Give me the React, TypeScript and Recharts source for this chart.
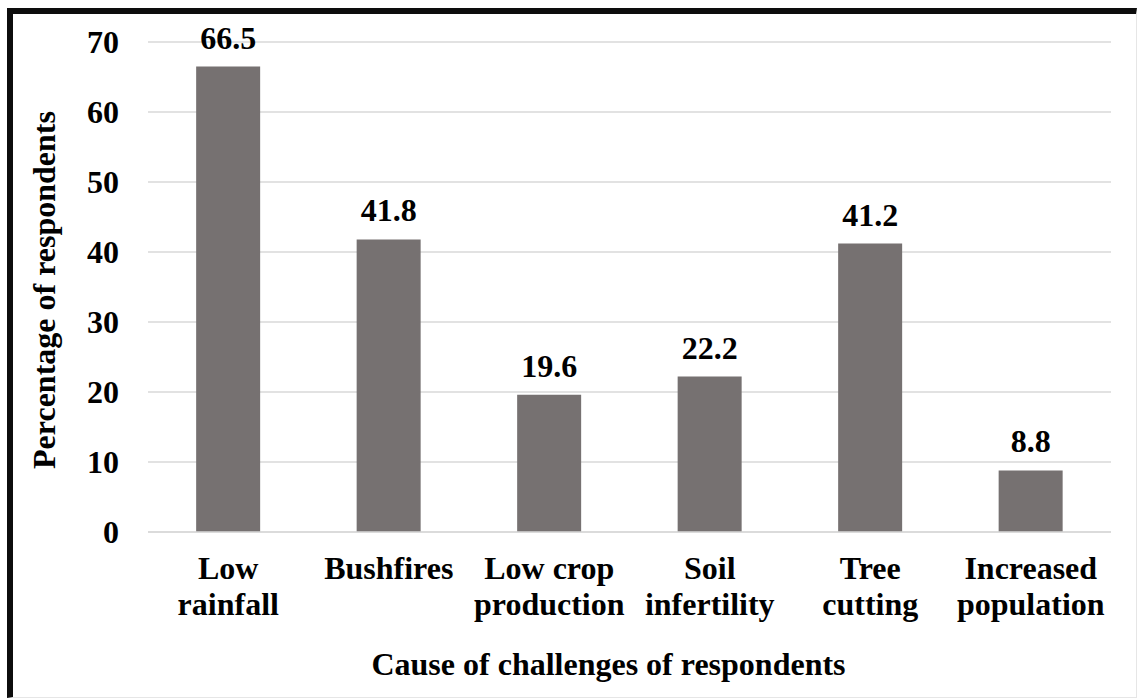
import { BarChart, Bar, XAxis, YAxis, CartesianGrid, LabelList, Label } from 'recharts';

// ── Data ────────────────────────────────────────────────
const categories = [
  'Low\nrainfall',
  'Bushfires',
  'Low crop\nproduction',
  'Soil\ninfertility',
  'Tree\ncutting',
  'Increased\npopulation',
];
const percentages = [66.5, 41.8, 19.6, 22.2, 41.2, 8.8];
const yTicks = [0, 10, 20, 30, 40, 50, 60, 70];

const xTitle = 'Cause of challenges of respondents';
const yTitle = 'Percentage of respondents';

const data = categories.map((name, i) => ({ name, value: percentages[i] }));

const FONT = "'Liberation Serif', 'Times New Roman', Times, serif";
const FS = 32;

// ── Ticks / labels ──────────────────────────────────────
function CategoryTick({ x, y, payload }: any) {
  const lines = String(payload.value).split('\n');
  return (
    <text x={x} y={y} textAnchor="middle" fill="#000" fontSize={FS} fontWeight="bold" style={{ fontFamily: FONT }}>
      {lines.map((line, i) => (
        <tspan key={i} x={x} dy={i === 0 ? '0.7em' : 36}>
          {line}
        </tspan>
      ))}
    </text>
  );
}

function XTitle({ viewBox }: any) {
  const cx = viewBox.x + viewBox.width / 2 - 21;
  return (
    <text x={cx} y={675} textAnchor="middle" fill="#000" fontSize={FS} fontWeight="bold" style={{ fontFamily: FONT }}>
      {xTitle}
    </text>
  );
}

function YTitle({ viewBox }: any) {
  const cy = viewBox.y + viewBox.height / 2 + 3;
  return (
    <text
      x={44}
      y={cy}
      transform={`rotate(-90, 44, ${cy})`}
      textAnchor="middle"
      dominantBaseline="central"
      fill="#000"
      fontSize={FS}
      fontWeight="bold"
      style={{ fontFamily: FONT }}
    >
      {yTitle}
    </text>
  );
}

// ── Component ───────────────────────────────────────────
export default function App() {
  return (
    <div
      style={{
        position: 'absolute',
        left: 0,
        top: 0,
        width: 1137,
        height: 698,
        background: '#fff',
        fontFamily: FONT,
        fontWeight: 'bold',
      }}
    >
      {/* frame */}
      <div
        style={{
          position: 'absolute',
          left: 7,
          top: 8,
          width: 1130,
          height: 690,
          boxSizing: 'border-box',
          borderLeft: '6px solid #0d0d0d',
          borderTop: '6px solid #0d0d0d',
          borderRight: '1px solid #e6e6e6',
          borderBottom: '1px solid #e6e6e6',
        }}
      />
      <div style={{ position: 'absolute', left: 0, top: 0 }}>
        <BarChart
          width={1137}
          height={698}
          data={data}
          margin={{ top: 42, right: 26, bottom: 0, left: 0 }}
          barCategoryGap="30%"
          style={{ fontFamily: FONT }}
        >
          <CartesianGrid vertical={false} stroke="#d9d9d9" strokeWidth={1.5} />
          <XAxis
            dataKey="name"
            height={166}
            axisLine={{ stroke: '#d9d9d9', strokeWidth: 1.5 }}
            tickLine={false}
            tickSize={0}
            tickMargin={25}
            interval={0}
            tick={<CategoryTick />}
          >
            <Label content={<XTitle />} />
          </XAxis>
          <YAxis
            width={148}
            domain={[0, 70]}
            ticks={yTicks}
            axisLine={false}
            tickLine={false}
            tickSize={0}
            tickMargin={29}
            tick={{ fill: '#000', fontSize: FS, fontWeight: 'bold', style: { fontFamily: FONT } }}
          >
            <Label content={<YTitle />} />
          </YAxis>
          <Bar dataKey="value" fill="#767171" isAnimationActive={false}>
            <LabelList
              dataKey="value"
              position="top"
              offset={18}
              formatter={(v: any) => Number(v).toFixed(1)}
              style={{ fill: '#000', fontSize: FS, fontWeight: 'bold', fontFamily: FONT }}
            />
          </Bar>
        </BarChart>
      </div>
    </div>
  );
}
